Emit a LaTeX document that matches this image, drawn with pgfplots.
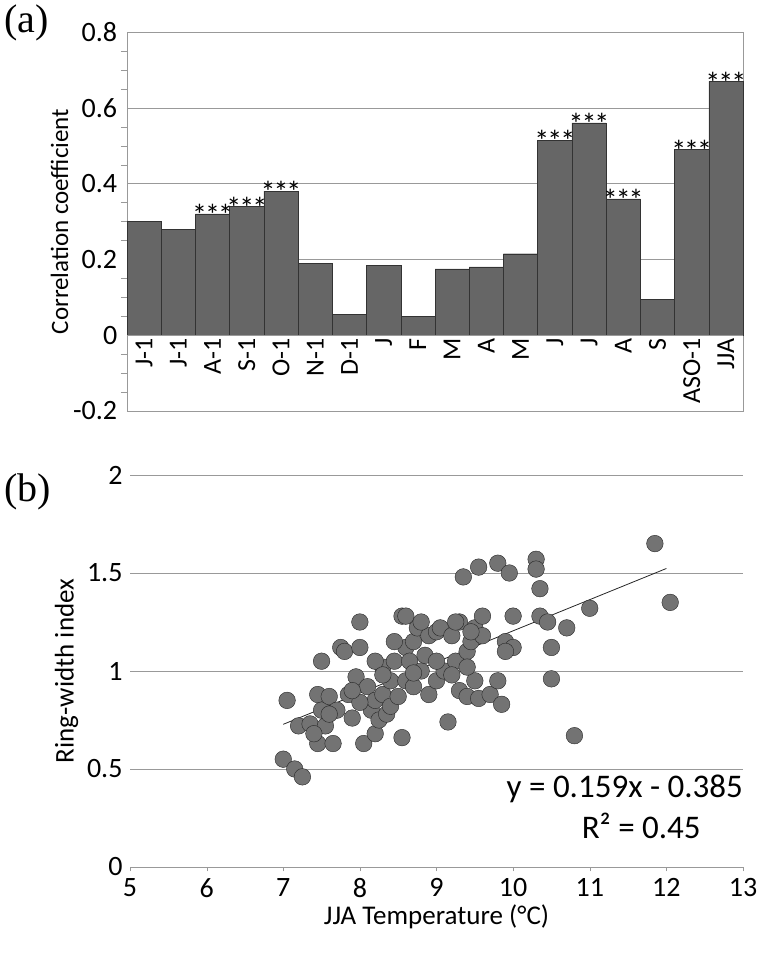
\documentclass[border=0pt]{standalone}
\usepackage{pgfplots}
\pgfplotsset{compat=1.18}
\usepackage{fontspec}
\setmainfont{Carlito}
\newfontfamily\serif{Liberation Serif}
\newcommand\stars{*\kern-2pt*\kern-2pt*}
\begin{document}
\begin{tikzpicture}
\path[use as bounding box] (0,0) rectangle (775pt,971pt);
\begin{axis}[at={(127pt,560pt)},anchor=south west,scale only axis,width=616pt,height=379pt,
  xmin=-0.5,xmax=17.5,ymin=-0.2,ymax=0.8,ytick={-0.2,0,0.2,0.4,0.6,0.8},
  minor y tick num=3,
  yticklabel style={/pgf/number format/fixed,font=\fontsize{28}{28}\selectfont,xshift=-2pt},
  /pgf/number format/assume math mode=true,
  xtick=\empty,ymajorgrids,grid style={gray!80},axis line style={gray!80},
  ylabel={\fontsize{25}{25}\selectfont Correlation coefficient},ylabel style={yshift=-2pt},
  clip=false,major tick style={draw=none},minor tick style={gray!80},minor tick length=6pt,ytick pos=left,tick align=outside]
\addplot[ybar,bar width=1,fill=black!60,draw=black!80] coordinates {
(0,0.30)(1,0.28)(2,0.32)(3,0.34)(4,0.38)(5,0.19)(6,0.055)(7,0.185)(8,0.05)(9,0.175)(10,0.18)(11,0.215)(12,0.515)(13,0.56)(14,0.36)(15,0.095)(16,0.49)(17,0.67)};
\draw[gray!80] (axis cs:-0.5,0)--(axis cs:17.5,0);
\foreach \i/\l in {0/J-1,1/J-1,2/A-1,3/S-1,4/O-1,5/N-1,6/D-1,7/J,8/F,9/M,10/A,11/M,12/J,13/J,14/A,15/S,16/ASO-1,17/JJA}
  {\edef\tmp{\noexpand\node[rotate=90,anchor=east,font=\noexpand\fontsize{26}{26}\noexpand\selectfont,inner sep=3pt] at (axis cs:\i,0) {\l};}\tmp}
\foreach \i/\v in {2/0.32,3/0.34,4/0.38,12/0.515,13/0.56,14/0.36,16/0.49,17/0.67}
  {\edef\tmp{\noexpand\node[anchor=south,font=\noexpand\fontsize{30}{30}\noexpand\selectfont,inner sep=0pt,yshift=-12pt] at (axis cs:\i,\v) {\noexpand\stars};}\tmp}
\end{axis}
\node[font=\serif\fontsize{40}{40}\selectfont,anchor=north west,inner sep=0pt] at (4pt,966pt) {(a)};
\node[font=\serif\fontsize{40}{40}\selectfont,anchor=north west,inner sep=0pt] at (4pt,497pt) {(b)};
\begin{axis}[at={(130pt,104pt)},anchor=south west,scale only axis,width=613pt,height=392pt,
  xmin=5,xmax=13,ymin=0,ymax=2,xtick={5,...,13},ytick={0,0.5,1,1.5,2},
  ticklabel style={font=\fontsize{28}{28}\selectfont},
  yticklabel style={xshift=-4pt},xticklabel style={yshift=-4pt},
  /pgf/number format/assume math mode=true,
  ymajorgrids,grid style={gray!80},axis x line*=bottom,axis y line*=left,
  x axis line style={gray!80,-},y axis line style={draw=none},xtick style={gray!80},ytick style={draw=none},xtick align=outside,
  xlabel={\fontsize{27}{27}\selectfont JJA Temperature (°C)},
  ylabel={\fontsize{27}{27}\selectfont Ring-width index},ylabel style={yshift=2pt},clip=false]
\addplot[only marks,mark=*,mark size=8.3,mark options={fill=black!55,draw=black!85}] coordinates {
(7.0,0.55)(7.05,0.85)(7.15,0.50)(7.25,0.46)(7.2,0.72)(7.35,0.73)(7.45,0.88)(7.45,0.63)(7.5,1.05)(7.5,0.80)(7.55,0.72)(7.6,0.87)(7.65,0.63)(7.7,0.80)(7.75,1.12)(7.8,1.10)(7.85,0.88)(7.9,0.76)(7.95,0.97)(8.0,1.12)(8.0,1.25)(8.05,0.63)(8.1,0.92)(8.15,0.80)(8.2,0.85)(8.2,0.68)(8.25,0.75)(8.3,1.02)(8.3,0.88)(8.35,0.78)(8.4,0.95)(8.4,0.82)(8.45,1.05)(8.5,0.87)(8.55,1.28)(8.55,0.66)(8.6,1.12)(8.6,0.95)(8.65,1.05)(8.7,1.15)(8.7,0.92)(8.75,1.22)(8.8,1.0)(8.85,1.08)(8.9,1.18)(8.9,0.88)(9.0,1.20)(9.0,0.95)(9.05,1.22)(9.1,1.0)(9.15,0.74)(9.2,1.18)(9.25,1.05)(9.3,1.25)(9.3,0.90)(9.35,1.48)(9.4,1.10)(9.4,0.87)(9.45,1.15)(9.5,1.22)(9.5,0.95)(9.55,1.53)(9.55,0.86)(9.6,1.28)(9.7,0.88)(9.8,1.55)(9.85,0.83)(9.9,1.15)(9.95,1.50)(10.0,1.28)(10.0,1.12)(10.3,1.57)(10.3,1.52)(10.35,1.42)(10.35,1.28)(10.45,1.25)(10.5,1.12)(10.5,0.96)(10.7,1.22)(10.8,0.67)(11.0,1.32)(11.85,1.65)(12.05,1.35)
(8.0,0.84)(8.2,1.05)(8.45,1.15)(8.6,1.28)(8.8,1.25)(9.0,1.05)(9.2,0.98)(9.4,1.02)(9.6,1.18)(9.8,0.95)(9.9,1.1)(7.6,0.78)(7.9,0.9)(8.3,0.98)(8.7,0.99)(9.25,1.25)(9.45,1.2)(7.4,0.68)};
\addplot[black!85,thick] coordinates {(7.0,0.728)(12.0,1.523)};
\node[anchor=east,font=\fontsize{33}{33}\selectfont,inner sep=0pt] at (axis cs:13,0.40) {y = 0.159x - 0.385};
\node[anchor=east,font=\fontsize{33}{33}\selectfont,inner sep=0pt] at (axis cs:12.45,0.21) {R² = 0.45};
\end{axis}
\end{tikzpicture}
\end{document}
